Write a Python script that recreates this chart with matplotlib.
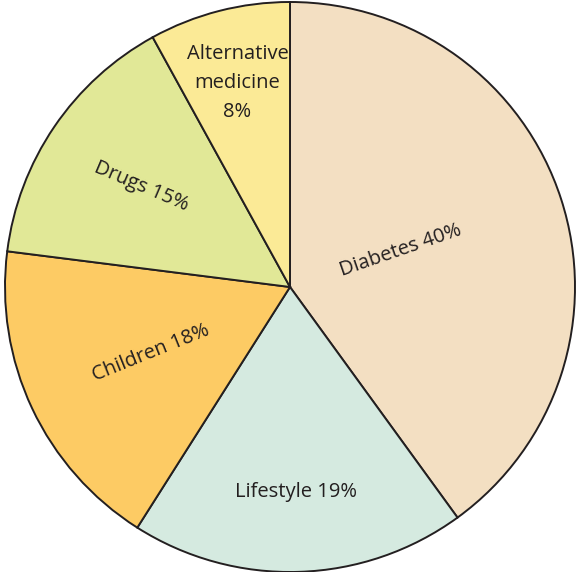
import matplotlib
matplotlib.use("Agg")
import matplotlib.pyplot as plt
import numpy as np

# Data
categories = ["Diabetes", "Lifestyle", "Children", "Drugs", "Alternative\nmedicine"]
shares = [40, 19, 18, 15, 8]
colors = ["#F3DFC2", "#D5EAE0", "#FDCB64", "#E1E897", "#FBEA96"]

# label placement (fraction of radius) and rotation per slice
label_radius = [0.41, 0.72, 0.54, 0.63, 0.74]
label_rotation = [19, 0, 22, -23, 0]
label_sep = [" ", " ", " ", " ", "\n"]

fig = plt.figure(figsize=(5.76, 5.72), dpi=100)
ax = fig.add_axes([0, 0, 1, 1])

R = 285.0
wedges, _ = ax.pie(shares, colors=colors, startangle=90, counterclock=False,
                   radius=1.0,
                   wedgeprops=dict(edgecolor="#231F20", linewidth=1.4))

for w, cat, val, r, rot, sep in zip(wedges, categories, shares,
                                    label_radius, label_rotation, label_sep):
    mid = np.deg2rad((w.theta1 + w.theta2) / 2.0)
    x = r * np.cos(mid)
    y = r * np.sin(mid)
    ax.text(x, y, f"{cat}{sep}{val}%", ha="center", va="center",
            rotation=rot, rotation_mode="anchor", fontsize=14.5,
            family="Open Sans", color="#231F20", linespacing=1.6)

ax.set_xlim(-290 / R, (576 - 290) / R)
ax.set_ylim(-(572 - 287) / R, 287 / R)
ax.set_aspect("auto")
ax.axis("off")

fig.savefig("out.png", dpi=100)
